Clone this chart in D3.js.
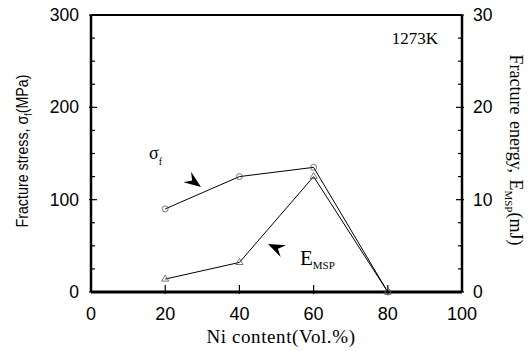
<!DOCTYPE html>
<html>
<head>
<meta charset="utf-8">
<script src="https://cdn.jsdelivr.net/npm/d3@7"></script>
<style>
  html, body { margin: 0; padding: 0; background: #fff; }
  svg { display: block; }
</style>
</head>
<body>
<svg id="chart" width="532" height="351"></svg>
<script>
// ── data ──
const niContent = [20, 40, 60, 80];
const fractureStress = [90, 125, 135, 0];     // MPa, left axis
const fractureEnergy = [1.4, 3.2, 12.5, 0];  // mJ, right axis
const xTicks = [0, 20, 40, 60, 80, 100];
const yLeftTicks = [0, 100, 200, 300];
const yRightTicks = [0, 10, 20, 30];

const svg = d3.select('#chart');
const M = { left: 91, right: 462, top: 15, bottom: 292 };

const x = d3.scaleLinear().domain([0, 100]).range([M.left, M.right]);
const yL = d3.scaleLinear().domain([0, 300]).range([M.bottom, M.top]);
const yR = d3.scaleLinear().domain([0, 30]).range([M.bottom, M.top]);

const sans = 'Liberation Sans, Arial, sans-serif';
const serif = 'Liberation Serif, Times New Roman, serif';

// ── frame ──
const frame = svg.append('g').attr('stroke', '#000').attr('fill', 'none');
frame.append('line').attr('x1', M.left).attr('x2', M.right).attr('y1', M.top).attr('y2', M.top).attr('stroke-width', 2);
frame.append('line').attr('x1', M.left).attr('x2', M.right).attr('y1', M.bottom).attr('y2', M.bottom).attr('stroke-width', 3);
frame.append('line').attr('x1', M.left).attr('x2', M.left).attr('y1', M.top).attr('y2', M.bottom).attr('stroke-width', 2.5);
frame.append('line').attr('x1', M.right).attr('x2', M.right).attr('y1', M.top).attr('y2', M.bottom).attr('stroke-width', 2.5);

// ── ticks (inward) ──
const ticks = svg.append('g').attr('stroke', '#000').attr('stroke-width', 1.2);
d3.range(0, 301, 25).forEach(v => {
  const major = v % 100 === 0;
  ticks.append('line').attr('x1', M.left - (major ? 2 : 0)).attr('x2', M.left + (major ? 6 : 4))
    .attr('y1', yL(v)).attr('y2', yL(v));
});
d3.range(0, 30.1, 2.5).forEach(v => {
  const major = v % 10 === 0;
  ticks.append('line').attr('x1', M.right + (major ? 2 : 0)).attr('x2', M.right - (major ? 6 : 4))
    .attr('y1', yR(v)).attr('y2', yR(v));
});
xTicks.slice(1, -1).forEach(v => {
  ticks.append('line').attr('x1', x(v)).attr('x2', x(v)).attr('y1', M.bottom + 2).attr('y2', M.bottom - 7);
});

// ── tick labels ──
svg.append('g').selectAll('text').data(xTicks).join('text')
  .attr('x', d => x(d)).attr('y', 320)
  .attr('text-anchor', 'middle').attr('font-family', sans).attr('font-size', 18)
  .text(d => d);
svg.append('g').selectAll('text').data(yLeftTicks).join('text')
  .attr('x', 79).attr('y', d => yL(d) + 6)
  .attr('text-anchor', 'end').attr('font-family', sans).attr('font-size', 17.5)
  .text(d => d);
svg.append('g').selectAll('text').data(yRightTicks).join('text')
  .attr('x', 473).attr('y', d => yR(d) + 6)
  .attr('text-anchor', 'start').attr('font-family', sans).attr('font-size', 17.5)
  .text(d => d);

// ── axis titles ──
svg.append('text').attr('x', 281).attr('y', 343)
  .attr('text-anchor', 'middle').attr('font-family', serif).attr('font-size', 19)
  .attr('letter-spacing', 0.6)
  .text('Ni content(Vol.%)');

// narrow sans title, squeezed along its length
const tl = svg.append('text')
  .attr('transform', 'translate(28,151) rotate(-90) scale(0.84,1)')
  .attr('text-anchor', 'middle').attr('font-family', sans).attr('font-size', 17);
tl.append('tspan').text('Fracture stress, σ');
tl.append('tspan').attr('font-size', 10).attr('dy', 4).text('f');
tl.append('tspan').attr('dy', -4).text('(MPa)');

const tr = svg.append('text')
  .attr('transform', 'translate(510,150) rotate(90)')
  .attr('text-anchor', 'middle').attr('font-family', serif).attr('font-size', 18)
  .attr('word-spacing', 2);
tr.append('tspan').text('Fracture energy, E');
tr.append('tspan').attr('font-size', 11).attr('dy', 5).text('MSP');
tr.append('tspan').attr('dy', -5).text('(mJ)');

// ── series ──
const lineL = d3.line().x((d, i) => x(niContent[i])).y(d => yL(d));
const lineR = d3.line().x((d, i) => x(niContent[i])).y(d => yR(d));

svg.append('path').datum(fractureStress).attr('d', lineL)
  .attr('fill', 'none').attr('stroke', '#000').attr('stroke-width', 1);
svg.append('path').datum(fractureEnergy).attr('d', lineR)
  .attr('fill', 'none').attr('stroke', '#000').attr('stroke-width', 1);

svg.append('g').selectAll('circle').data(fractureStress).join('circle')
  .attr('cx', (d, i) => x(niContent[i])).attr('cy', d => yL(d)).attr('r', 3)
  .attr('fill', 'none').attr('stroke', '#555').attr('stroke-width', 0.8);
svg.append('g').selectAll('path').data(fractureEnergy).join('path')
  .attr('d', d3.symbol(d3.symbolTriangle, 22))
  .attr('transform', (d, i) => `translate(${x(niContent[i])},${yR(d)})`)
  .attr('fill', 'none').attr('stroke', '#555').attr('stroke-width', 0.8);

// ── annotations ──
const ann = svg.append('text').attr('x', 149).attr('y', 159)
  .attr('font-family', serif).attr('font-size', 18);
ann.append('tspan').text('σ');
ann.append('tspan').attr('font-size', 10).attr('dy', 6).text('f');

const arrow = (tip, ang) => {
  const g = svg.append('g').attr('transform', `translate(${tip[0]},${tip[1]}) rotate(${ang})`);
  g.append('path').attr('d', 'M0,0 L-17,-6.5 L-11,0 L-17,6.5 Z').attr('fill', '#000');
};
arrow([201, 187], 36);
arrow([268, 244], 205);

const e = svg.append('text').attr('x', 300).attr('y', 265)
  .attr('font-family', serif).attr('font-size', 21);
e.append('tspan').text('E');
e.append('tspan').attr('font-size', 11).attr('dy', 4).text('MSP');

svg.append('text').attr('x', 438).attr('y', 44).attr('text-anchor', 'end')
  .attr('font-family', serif).attr('font-size', 17).text('1273K');
</script>
</body>
</html>
